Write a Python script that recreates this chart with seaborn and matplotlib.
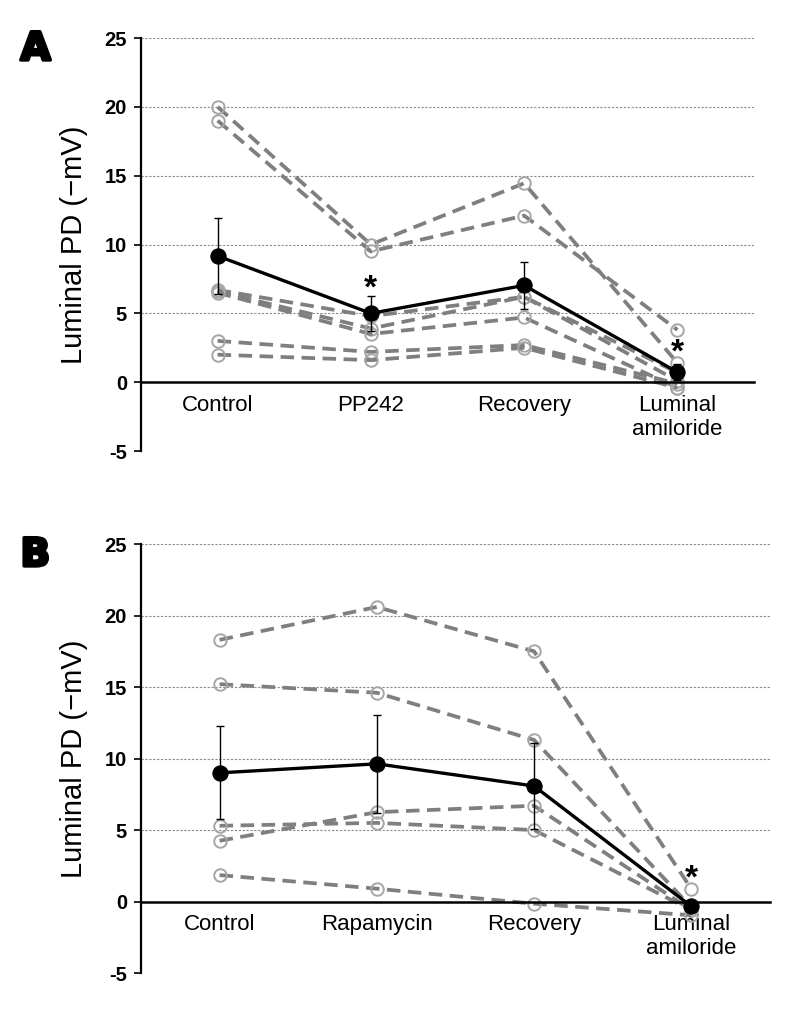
import numpy as np
import pandas as pd
import seaborn as sns
import matplotlib.pyplot as plt
import matplotlib.patheffects as pe
from matplotlib.ticker import FixedLocator

# Panel A: PP242 experiment (individual animals, mean and SEM)
cats_a = ["Control", "PP242", "Recovery", "Luminal\namiloride"]
subj_a = [
    [20.0, 10.0, 14.45, 1.4],
    [19.0, 9.5, 12.1, 3.8],
    [6.7, 4.8, 6.2, 0.7],
    [6.6, 3.9, 6.2, 0.1],
    [6.5, 3.5, 4.7, -0.4],
    [3.0, 2.2, 2.7, -0.1],
    [2.0, 1.6, 2.5, -0.4],
]
mean_a = [9.17, 5.0, 7.03, 0.73]
sem_a = [2.75, 1.25, 1.7, 0.6]
stars_a = [(1, 6.8), (3, 2.1)]

# Panel B: rapamycin experiment
cats_b = ["Control", "Rapamycin", "Recovery", "Luminal\namiloride"]
subj_b = [
    [18.3, 20.6, 17.5, 0.9],
    [15.2, 14.6, 11.3, -0.4],
    [4.25, 6.25, 6.7, -0.6],
    [5.3, 5.5, 5.0, -0.6],
    [1.85, 0.9, -0.15, -0.96],
]
mean_b = [9.0, 9.63, 8.08, -0.33]
sem_b = [3.25, 3.45, 3.0, 0.35]
stars_b = [(3, 1.6)]

yticks = [-5, 0, 5, 10, 15, 20, 25]

sns.set_style("white")
plt.rcParams["font.family"] = ["Liberation Sans", "DejaVu Sans"]
plt.rcParams["text.color"] = "black"
plt.rcParams["axes.labelcolor"] = "black"
plt.rcParams["xtick.color"] = "black"
plt.rcParams["ytick.color"] = "black"


def draw_panel(ax, cats, subj, mean, sem, stars):
    x = np.arange(len(cats))
    rows = []
    for i, vals in enumerate(subj):
        for j, v in enumerate(vals):
            rows.append({"subject": i, "x": x[j], "value": v})
    df = pd.DataFrame(rows)

    # grid lines
    for t in yticks[2:]:
        ax.axhline(t, color="#8a8a8a", lw=0.8, ls=(0, (2, 1.5)), zorder=0)

    sns.lineplot(data=df, x="x", y="value", units="subject", estimator=None,
                 sort=False, color="#7f7f7f", lw=2.7, ls=(0, (3.6, 2.0)),
                 marker="o", markersize=9, markerfacecolor="none",
                 markeredgecolor="#a6a6a6", markeredgewidth=1.4,
                 ax=ax, zorder=2)

    ax.errorbar(x, mean, yerr=sem, fmt="none", ecolor="black",
                elinewidth=1.0, capsize=3, capthick=1.0, zorder=3)
    sns.lineplot(x=x, y=mean, color="black", lw=2.4, marker="o",
                 markersize=11, markeredgecolor="black", ax=ax, zorder=4)

    for xi, yi in stars:
        ax.text(xi, yi, "*", ha="center", va="center", fontsize=24,
                fontweight="bold", color="black", zorder=5)

    for side in ["top", "right"]:
        ax.spines[side].set_visible(False)
    ax.spines["left"].set_color("black")
    ax.spines["left"].set_linewidth(1.6)
    ax.spines["bottom"].set_position(("data", 0))
    ax.spines["bottom"].set_color("black")
    ax.spines["bottom"].set_linewidth(1.8)

    ax.set_xlim(-0.5, len(cats) - 0.5)
    ax.set_ylim(-5, 25)
    ax.set_yticks(yticks)
    ax.set_yticklabels([str(t) for t in yticks], fontsize=14.5, fontweight="bold")
    ax.set_xticks(x)
    ax.set_xticklabels(cats, fontsize=16, linespacing=1.2)
    ax.xaxis.set_minor_locator(FixedLocator(np.arange(0.5, len(cats), 1.0)))
    ax.tick_params(axis="x", which="major", length=0, pad=9)
    ax.tick_params(axis="x", which="minor", length=5, width=1.5,
                   direction="out", color="black")
    ax.tick_params(axis="y", which="major", length=5, width=1.2,
                   direction="out", color="black", pad=5, left=True)

    ax.set_xlabel("")
    ax.set_ylabel("Luminal PD (\u2212mV)", fontsize=21, labelpad=12)
    ax.grid(False)


fig = plt.figure(figsize=(7.89, 10.30), dpi=100)
ax_a = fig.add_axes([0.1787, 0.5621, 0.777, 0.401])
ax_b = fig.add_axes([0.1787, 0.0553, 0.797, 0.4165])

draw_panel(ax_a, cats_a, subj_a, mean_a, sem_a, stars_a)
draw_panel(ax_b, cats_b, subj_b, mean_b, sem_b, stars_b)

heavy = [pe.withStroke(linewidth=2.4, foreground="black")]
fig.text(0.026, 1 - 60 / 1030, "A", fontsize=28, fontweight="bold",
         color="black", family="DejaVu Sans", va="baseline", path_effects=heavy)
fig.text(0.026, 1 - 566 / 1030, "B", fontsize=28, fontweight="bold",
         color="black", family="DejaVu Sans", va="baseline", path_effects=heavy)

fig.savefig("out.png", dpi=100)
plt.close(fig)
